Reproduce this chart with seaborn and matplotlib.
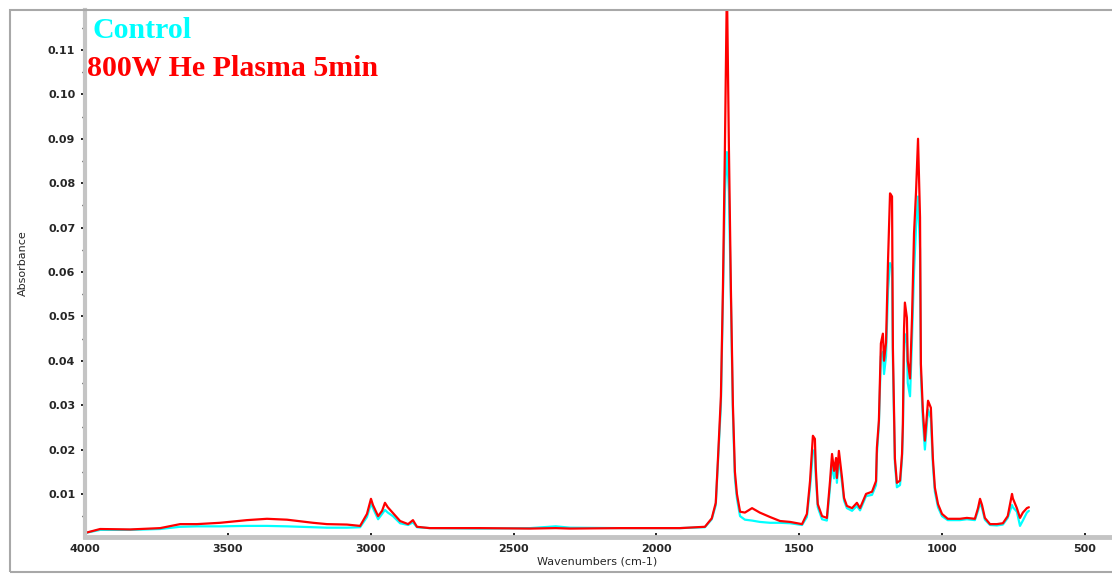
import numpy as np
import pandas as pd
import matplotlib
matplotlib.use("Agg")
import matplotlib.pyplot as plt
import seaborn as sns
from matplotlib.patches import Rectangle

# ---------------- data ----------------
wavenumbers = [4000, 3947, 3842, 3737, 3667, 3608, 3527, 3433, 3363, 3293,
               3202, 3153, 3083, 3037, 3013, 2999, 2992, 2974, 2960, 2950,
               2940, 2922, 2897, 2869, 2852, 2838, 2793, 2617, 2442, 2352,
               2302, 2127, 1918, 1830, 1806, 1792, 1785, 1774, 1767, 1760,
               1753, 1746, 1739, 1732, 1725, 1718, 1707, 1690, 1665, 1638,
               1602, 1567, 1532, 1490, 1473, 1462, 1452, 1445, 1442, 1435,
               1420, 1403, 1392, 1385, 1378, 1371, 1368, 1361, 1350, 1343,
               1333, 1315, 1298, 1287, 1266, 1245, 1231, 1228, 1221, 1214,
               1207, 1203, 1196, 1189, 1182, 1175, 1172, 1165, 1158, 1147,
               1140, 1137, 1133, 1130, 1123, 1120, 1112, 1105, 1098, 1091,
               1084, 1077, 1074, 1067, 1060, 1049, 1039, 1032, 1025, 1014,
               1000, 980, 937, 913, 885, 874, 867, 860, 850, 832,
               808, 787, 770, 755, 752, 738, 727, 717, 703, 696]

plasma_800w = [0.0012, 0.0021, 0.0020, 0.0023, 0.0032, 0.0032, 0.0035, 0.0041, 0.0044, 0.0042,
               0.0035, 0.0032, 0.0031, 0.0028, 0.0055, 0.0089, 0.0075, 0.0050, 0.0062, 0.0080,
               0.0070, 0.0057, 0.0039, 0.0032, 0.0041, 0.0026, 0.0023, 0.0023, 0.0022, 0.0023,
               0.0022, 0.0023, 0.0023, 0.0026, 0.0045, 0.0080, 0.0170, 0.0320, 0.0560, 0.0880,
               0.1250, 0.0880, 0.0560, 0.0300, 0.0150, 0.0100, 0.0060, 0.0058, 0.0068, 0.0058,
               0.0048, 0.0039, 0.0037, 0.0032, 0.0055, 0.0129, 0.0231, 0.0224, 0.0159, 0.0077,
               0.0050, 0.0046, 0.0129, 0.0190, 0.0152, 0.0181, 0.0136, 0.0197, 0.0136, 0.0091,
               0.0073, 0.0068, 0.0080, 0.0068, 0.0100, 0.0105, 0.0129, 0.0204, 0.0265, 0.0439,
               0.0461, 0.0400, 0.0441, 0.0626, 0.0777, 0.0770, 0.0430, 0.0180, 0.0125, 0.0130,
               0.0190, 0.0258, 0.0472, 0.0531, 0.0497, 0.0400, 0.0360, 0.0497, 0.0687, 0.0780,
               0.0900, 0.0723, 0.0393, 0.0287, 0.0220, 0.0310, 0.0294, 0.0180, 0.0114, 0.0077,
               0.0055, 0.0044, 0.0044, 0.0046, 0.0044, 0.0068, 0.0089, 0.0075, 0.0046, 0.0032,
               0.0032, 0.0034, 0.0050, 0.0100, 0.0090, 0.0068, 0.0046, 0.0058, 0.0068, 0.0070]

control = [0.0012, 0.0019, 0.0019, 0.0021, 0.0026, 0.0027, 0.0027, 0.0028, 0.0028, 0.0027,
           0.0025, 0.0024, 0.0024, 0.0025, 0.0048, 0.0078, 0.0068, 0.0043, 0.0055, 0.0064,
           0.0058, 0.0050, 0.0034, 0.0030, 0.0036, 0.0025, 0.0023, 0.0022, 0.0023, 0.0027,
           0.0024, 0.0023, 0.0023, 0.0025, 0.0043, 0.0075, 0.0160, 0.0300, 0.0540, 0.0780,
           0.0870, 0.0780, 0.0540, 0.0280, 0.0135, 0.0090, 0.0050, 0.0042, 0.0040, 0.0037,
           0.0035, 0.0035, 0.0034, 0.0030, 0.0048, 0.0115, 0.0195, 0.0200, 0.0140, 0.0070,
           0.0043, 0.0040, 0.0115, 0.0170, 0.0135, 0.0165, 0.0125, 0.0180, 0.0125, 0.0085,
           0.0068, 0.0062, 0.0073, 0.0063, 0.0095, 0.0098, 0.0120, 0.0190, 0.0255, 0.0410,
           0.0420, 0.0370, 0.0410, 0.0560, 0.0620, 0.0610, 0.0400, 0.0170, 0.0115, 0.0120,
           0.0180, 0.0240, 0.0420, 0.0460, 0.0440, 0.0350, 0.0320, 0.0450, 0.0600, 0.0700,
           0.0770, 0.0650, 0.0370, 0.0265, 0.0200, 0.0290, 0.0270, 0.0165, 0.0105, 0.0070,
           0.0050, 0.0041, 0.0041, 0.0043, 0.0041, 0.0062, 0.0080, 0.0068, 0.0042, 0.0030,
           0.0029, 0.0031, 0.0046, 0.0075, 0.0070, 0.0060, 0.0028, 0.0040, 0.0058, 0.0062]

series_names = ["Control", "800W He Plasma 5min"]
series_colors = ["#00FFFF", "#FF0000"]

x_ticks = [4000, 3500, 3000, 2500, 2000, 1500, 1000, 500]
y_ticks = [0.01, 0.02, 0.03, 0.04, 0.05, 0.06, 0.07, 0.08, 0.09, 0.10, 0.11]
y_tick_labels = ["0.01", "0.02", "0.03", "0.04", "0.05", "0.06", "0.07", "0.08", "0.09", "0.10", "0.11"]

# ---------------- plotting ----------------
sns.set_style("white")
plt.rcParams["font.family"] = ["DejaVu Sans"]

df = pd.DataFrame({
    "wavenumber": wavenumbers * 2,
    "absorbance": control + plasma_800w,
    "sample": [series_names[0]] * len(wavenumbers) + [series_names[1]] * len(wavenumbers),
})

fig = plt.figure(figsize=(11.12, 5.75), dpi=100)
ax = fig.add_axes([85 / 1112, 38 / 575, (1110 - 85) / 1112, (565 - 38) / 575])

sns.lineplot(data=df, x="wavenumber", y="absorbance", hue="sample",
             hue_order=series_names, palette=series_colors,
             estimator=None, sort=True, linewidth=1.6, legend=False, ax=ax)

ax.set_xlim(4000, 412)
ax.set_ylim(0.0003, 0.119)

ax.set_xticks(x_ticks)
ax.set_xticklabels([str(t) for t in x_ticks], fontsize=8, fontweight="bold")
ax.set_yticks(y_ticks)
ax.set_yticklabels(y_tick_labels, fontsize=8, fontweight="bold")
ax.set_yticks(np.arange(0.005, 0.119, 0.01), minor=True)

ax.tick_params(axis="y", which="major", direction="out", length=3, width=1.2,
               color="black", pad=4, left=True)
ax.tick_params(axis="y", which="minor", direction="out", length=2, width=1,
               color="black", left=True)
ax.tick_params(axis="x", which="major", direction="in", length=3, width=1.2,
               color="black", pad=5, bottom=True)

for side in ["top", "right"]:
    ax.spines[side].set_visible(False)
ax.spines["left"].set_color("#c4c4c4")
ax.spines["left"].set_linewidth(3)
ax.spines["bottom"].set_color("#c4c4c4")
ax.spines["bottom"].set_linewidth(3.5)

ax.set_xlabel("Wavenumbers (cm-1)", fontsize=8, labelpad=2)
ax.set_ylabel("Absorbance", fontsize=8)
ax.yaxis.set_label_coords(-0.056, 0.52)

# legend-like coloured labels
fig.text(93 / 1112, (575 - 38) / 575, series_names[0], color=series_colors[0],
         fontsize=21.5, fontweight="bold", family="Liberation Serif", va="baseline")
fig.text(87 / 1112, (575 - 76) / 575, series_names[1], color=series_colors[1],
         fontsize=21.5, fontweight="bold", family="Liberation Serif", va="baseline")

# outer frame
fig.patches.append(Rectangle((10 / 1112, 3 / 575), 1.1, (565 - 3) / 575,
                             transform=fig.transFigure, fill=False,
                             edgecolor="#a8a8a8", linewidth=1.5))

fig.savefig("out.png", dpi=100)
